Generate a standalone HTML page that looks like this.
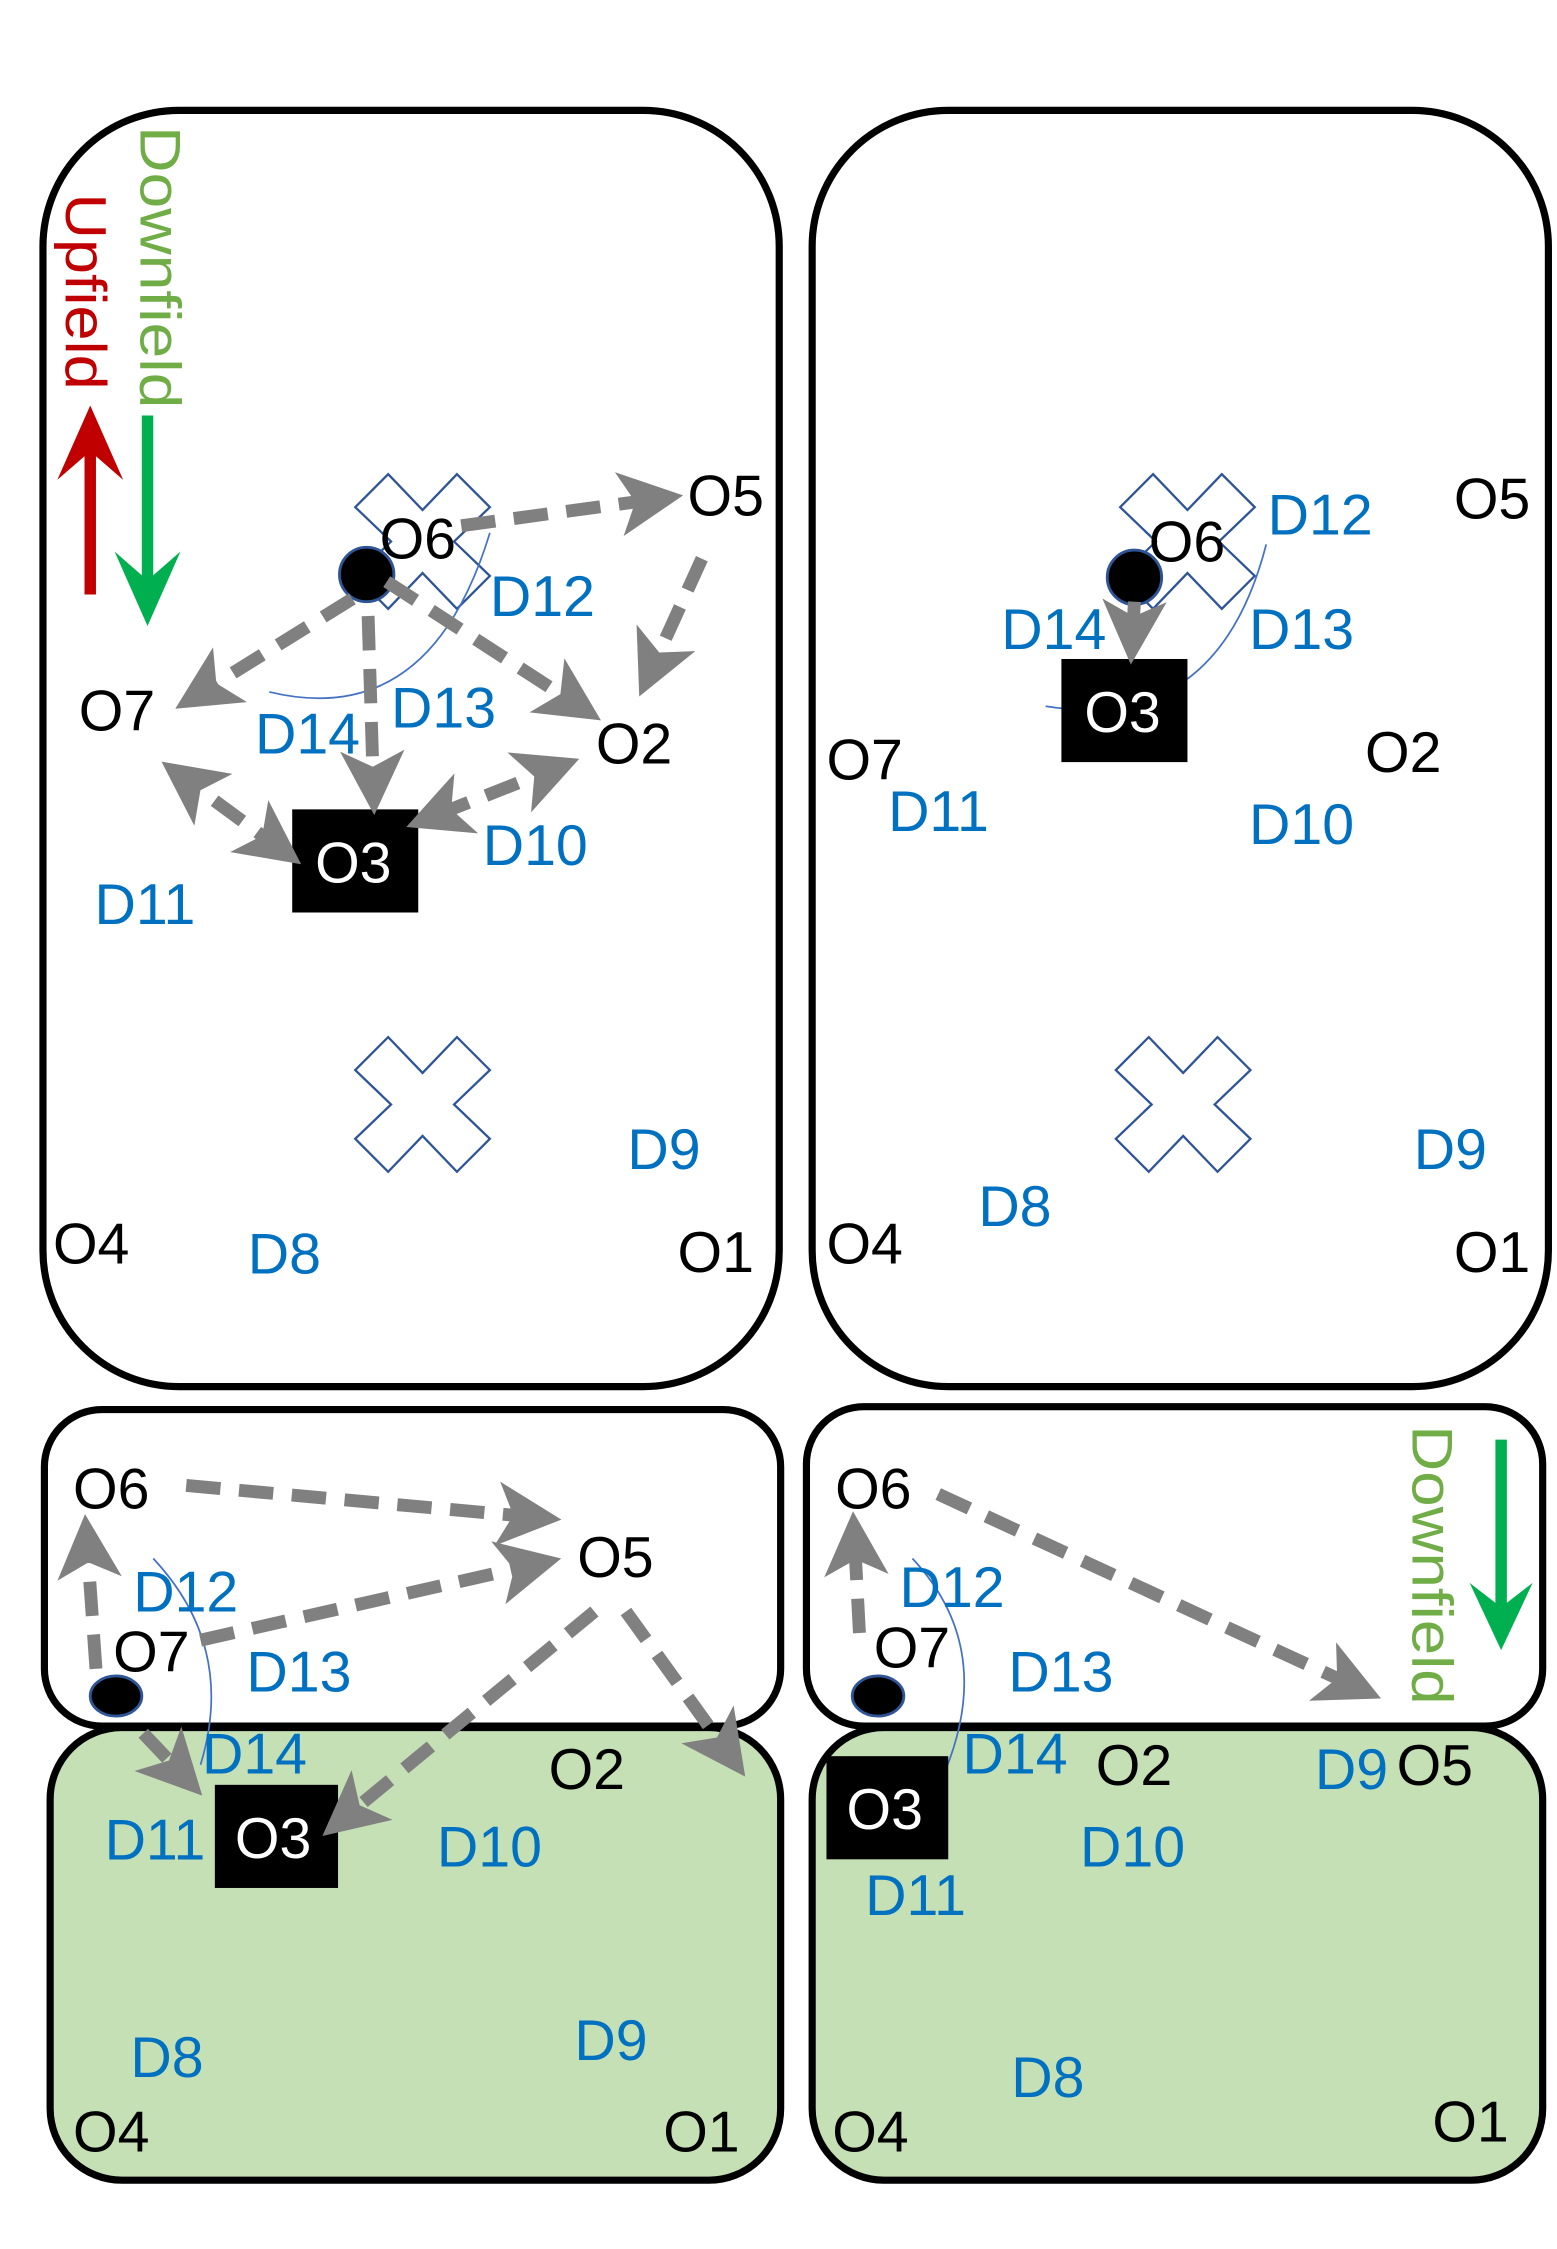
<!DOCTYPE html>
<html><head><meta charset="utf-8"><style>
html,body{margin:0;padding:0;background:#fff;}
svg{display:block;}
text{font-family:"Liberation Sans","DejaVu Sans",sans-serif;font-size:40px;}
.o{fill:#000;}
.d{fill:#0070c0;}
.w{fill:#fff;}
.a{stroke:#808080;stroke-width:9;stroke-dasharray:24 13;fill:none;}
.arc{stroke:#4472c4;stroke-width:1.2;fill:none;}
.x{fill:#fff;stroke:#2f5597;stroke-width:1.6;}
</style></head><body>
<svg width="1557" height="2249" viewBox="0 0 1087 1570" xmlns="http://www.w3.org/2000/svg">
<defs>
<marker id="h" viewBox="0 0 10 10" refX="8" refY="5" markerWidth="5" markerHeight="5" orient="auto-start-reverse" markerUnits="strokeWidth">
<path d="M0,0 L10,5 L0,10 L2.5,5 z" fill="#808080"/></marker>
<polygon id="xs" points="-47,-24 -24,-47 0,-22 24,-47 47,-24 22,0 47,24 24,47 0,22 -24,47 -47,24 -22,0"/>
</defs>
<!-- panels -->
<rect x="30" y="77" width="514" height="891" rx="95" fill="#fff" stroke="#000" stroke-width="5"/>
<rect x="567" y="77" width="514" height="891" rx="95" fill="#fff" stroke="#000" stroke-width="5"/>
<rect x="35" y="1206" width="510" height="316" rx="50" fill="#c5e0b4" stroke="#000" stroke-width="5"/>
<rect x="31" y="984" width="514" height="221" rx="40" fill="#fff" stroke="#000" stroke-width="5"/>
<rect x="567" y="1206" width="510" height="316" rx="50" fill="#c5e0b4" stroke="#000" stroke-width="5"/>
<rect x="563" y="982" width="514" height="223" rx="40" fill="#fff" stroke="#000" stroke-width="5"/>

<!-- TL -->
<text transform="translate(46,135) rotate(90)" fill="#c00000" textLength="137" lengthAdjust="spacingAndGlyphs">Upfield</text>
<text transform="translate(98,88) rotate(90)" fill="#70ad47" textLength="197" lengthAdjust="spacingAndGlyphs">Downfield</text>
<line x1="63" y1="415" x2="63" y2="300" stroke="#c00000" stroke-width="8"/>
<polygon points="63,283 40,335 63,315 86,335" fill="#c00000"/>
<line x1="103" y1="290" x2="103" y2="415" stroke="#00b050" stroke-width="8"/>
<polygon points="103,437 80,385 103,405 126,385" fill="#00b050"/>
<use href="#xs" class="x" x="295" y="378"/>
<use href="#xs" class="x" x="295" y="771"/>
<path class="arc" d="M188,483 Q300,510 342,372"/>
<ellipse cx="256" cy="401" rx="19" ry="19" fill="#000" stroke="#2f5597" stroke-width="2"/>
<text class="o" x="265" y="390">O6</text>
<text class="o" x="480" y="360">O5</text>
<text class="o" x="55" y="510">O7</text>
<text class="o" x="416" y="533">O2</text>
<rect x="204" y="565" width="88" height="72" fill="#000"/>
<text class="w" x="220" y="616">O3</text>
<text class="d" x="342" y="430">D12</text>
<text class="d" x="273" y="508">D13</text>
<text class="d" x="178" y="526">D14</text>
<text class="d" x="337" y="604">D10</text>
<text class="d" x="66" y="645">D11</text>
<text class="d" x="438" y="816">D9</text>
<text class="d" x="173" y="889">D8</text>
<text class="o" x="37" y="882">O4</text>
<text class="o" x="473" y="888">O1</text>
<line class="a" x1="322" y1="367" x2="468" y2="347" marker-end="url(#h)"/>
<line class="a" x1="490" y1="390" x2="450" y2="478" marker-end="url(#h)"/>
<line class="a" x1="246" y1="418" x2="130" y2="490" marker-end="url(#h)"/>
<line class="a" x1="257" y1="430" x2="261" y2="560" marker-end="url(#h)"/>
<line class="a" x1="270" y1="406" x2="412" y2="498" marker-end="url(#h)"/>
<line class="a" x1="396" y1="533" x2="292" y2="574" marker-start="url(#h)" marker-end="url(#h)"/>
<line class="a" x1="120" y1="537" x2="203" y2="598" marker-start="url(#h)" marker-end="url(#h)"/>

<!-- TR -->
<use href="#xs" class="x" x="829" y="378"/>
<use href="#xs" class="x" x="826" y="771"/>
<path class="arc" d="M730,493 Q850,512 884,380"/>
<ellipse cx="792" cy="403" rx="19" ry="19" fill="#000" stroke="#2f5597" stroke-width="2"/>
<text class="o" x="802" y="392">O6</text>
<text class="o" x="1015" y="362">O5</text>
<text class="d" x="885" y="373">D12</text>
<text class="d" x="872" y="453">D13</text>
<text class="d" x="699" y="453">D14</text>
<rect x="741" y="460" width="88" height="72" fill="#000"/>
<text class="w" x="757" y="511">O3</text>
<text class="o" x="577" y="544">O7</text>
<text class="o" x="953" y="539">O2</text>
<text class="d" x="620" y="580">D11</text>
<text class="d" x="872" y="589">D10</text>
<text class="d" x="987" y="816">D9</text>
<text class="d" x="683" y="856">D8</text>
<text class="o" x="577" y="882">O4</text>
<text class="o" x="1015" y="888">O1</text>
<line class="a" x1="792" y1="420" x2="790" y2="455" marker-end="url(#h)" style="stroke-dasharray:0"/>

<!-- BL -->
<path class="arc" d="M107,1088 Q165,1150 140,1232"/>
<text class="o" x="51" y="1053">O6</text>
<text class="o" x="403" y="1101">O5</text>
<text class="d" x="93" y="1125">D12</text>
<text class="o" x="79" y="1167">O7</text>
<text class="d" x="172" y="1181">D13</text>
<ellipse cx="81" cy="1184" rx="18" ry="14" fill="#000" stroke="#2f5597" stroke-width="2"/>
<text class="d" x="141" y="1238">D14</text>
<text class="o" x="383" y="1249">O2</text>
<text class="d" x="73" y="1298">D11</text>
<rect x="150" y="1246" width="86" height="72" fill="#000"/>
<text class="w" x="164" y="1297">O3</text>
<text class="d" x="305" y="1303">D10</text>
<text class="d" x="401" y="1438">D9</text>
<text class="d" x="91" y="1450">D8</text>
<text class="o" x="51" y="1502">O4</text>
<text class="o" x="463" y="1502">O1</text>
<line class="a" x1="130" y1="1037" x2="383" y2="1060" marker-end="url(#h)"/>
<line class="a" x1="140" y1="1145" x2="383" y2="1090" marker-end="url(#h)"/>
<line class="a" x1="415" y1="1125" x2="232" y2="1276" marker-end="url(#h)"/>
<line class="a" x1="437" y1="1125" x2="515" y2="1233" marker-end="url(#h)"/>
<line class="a" x1="67" y1="1165" x2="60" y2="1066" marker-end="url(#h)"/>
<line class="a" x1="100" y1="1210" x2="135" y2="1247" marker-end="url(#h)"/>

<!-- BR -->
<text transform="translate(986,995) rotate(90)" fill="#70ad47" textLength="195" lengthAdjust="spacingAndGlyphs">Downfield</text>
<line x1="1048" y1="1005" x2="1048" y2="1130" stroke="#00b050" stroke-width="8"/>
<polygon points="1048,1152 1026,1105 1048,1122 1070,1105" fill="#00b050"/>
<path class="arc" d="M637,1088 Q695,1150 660,1236"/>
<text class="o" x="583" y="1053">O6</text>
<text class="d" x="628" y="1122">D12</text>
<text class="o" x="610" y="1164">O7</text>
<text class="d" x="704" y="1181">D13</text>
<ellipse cx="613" cy="1184" rx="18" ry="14" fill="#000" stroke="#2f5597" stroke-width="2"/>
<text class="d" x="672" y="1238">D14</text>
<text class="o" x="765" y="1246">O2</text>
<text class="d" x="918" y="1249">D9</text>
<text class="o" x="975" y="1246">O5</text>
<rect x="577" y="1226" width="85" height="72" fill="#000"/>
<text class="w" x="591" y="1277">O3</text>
<text class="d" x="754" y="1303">D10</text>
<text class="d" x="604" y="1337">D11</text>
<text class="d" x="706" y="1464">D8</text>
<text class="o" x="581" y="1502">O4</text>
<text class="o" x="1000" y="1495">O1</text>
<line class="a" x1="655" y1="1043" x2="956" y2="1182" marker-end="url(#h)"/>
<line class="a" x1="600" y1="1140" x2="596" y2="1064" marker-end="url(#h)"/>
</svg>
</body></html>
